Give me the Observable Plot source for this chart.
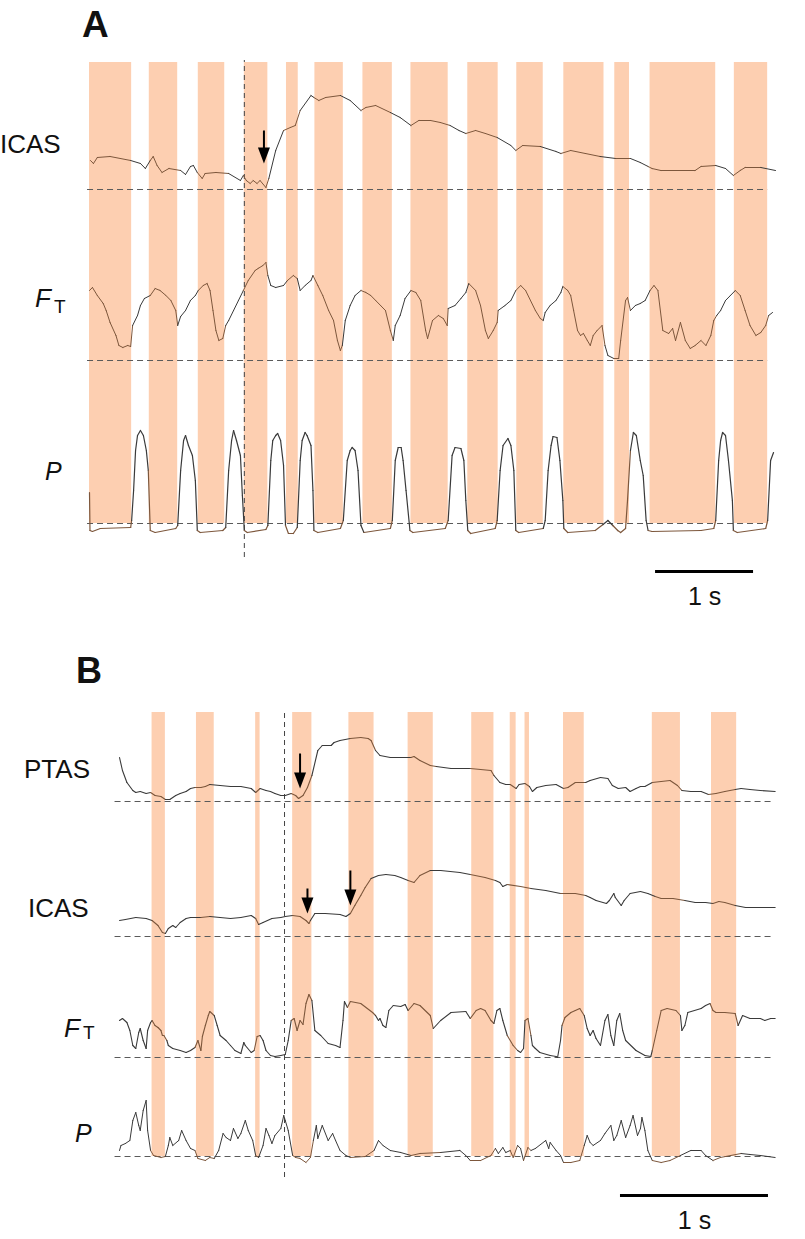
<!DOCTYPE html>
<html><head><meta charset="utf-8">
<script src="https://cdn.jsdelivr.net/npm/d3@7"></script>
<script src="https://cdn.jsdelivr.net/npm/@observablehq/plot@0.6"></script>
<style>
html,body{margin:0;padding:0;background:#fff;overflow:hidden}
#fig{position:relative;width:805px;height:1239px;font-family:"Liberation Sans",Arial,sans-serif}
#fig > svg{position:absolute;left:0}
</style></head><body><div id="fig"></div>
<script>
// ---------------- DATA (time in s, amplitude in a.u. above each trace's dashed baseline) ----------------
// Panel A
const bandsA_start = [0, 0.61, 1.11, 1.58, 2.01, 2.30, 2.79, 3.28, 3.86, 4.36, 4.84, 5.36, 5.72, 6.58];
const bandsA_end   = [0.43, 0.90, 1.38, 1.82, 2.13, 2.59, 3.09, 3.66, 4.17, 4.63, 5.25, 5.51, 6.39, 6.92];
const stimA = 1.58;
const labelsA = ["ICAS", "FT", "P"];
const icasA = [[0.01,29],[0.04,26],[0.08,32],[0.21,33],[0.42,29],[0.52,26],[0.57,21],[0.62,29],[0.65,33],[0.69,24],[0.74,17],[0.81,21],[0.93,19],[0.98,15],[1.03,23],[1.06,24],[1.10,17],[1.15,11],[1.18,16],[1.29,17],[1.42,16],[1.54,9],[1.57,14],[1.60,9],[1.64,6],[1.67,9],[1.71,6],[1.74,9],[1.80,2],[1.83,11],[1.90,39],[1.98,59],[2.05,62],[2.10,64],[2.15,79],[2.26,94],[2.29,92],[2.34,89],[2.41,92],[2.56,94],[2.66,89],[2.77,79],[2.82,82],[2.92,84],[3.07,77],[3.17,72],[3.28,64],[3.36,69],[3.48,69],[3.58,67],[3.68,64],[3.77,59],[3.84,56],[3.94,59],[4.04,56],[4.16,52],[4.30,44],[4.35,39],[4.42,44],[4.60,43],[4.76,38],[4.81,36],[4.91,39],[5.06,36],[5.21,33],[5.37,31],[5.52,31],[5.62,27],[5.70,23],[5.74,21],[5.83,19],[6.03,19],[6.18,19],[6.24,23],[6.39,24],[6.49,21],[6.57,14],[6.64,19],[6.69,22],[6.85,22],[7.00,19]];
const ftA = [[0,70],[0.03,73],[0.08,65],[0.14,57],[0.17,50],[0.21,38],[0.27,25],[0.30,15],[0.34,13],[0.39,15],[0.42,14],[0.44,35],[0.49,45],[0.52,55],[0.56,62],[0.62,65],[0.67,72],[0.72,70],[0.78,65],[0.83,60],[0.88,50],[0.90,35],[0.93,44],[0.98,50],[1.03,60],[1.08,65],[1.11,70],[1.16,75],[1.20,77],[1.23,70],[1.26,50],[1.29,30],[1.32,20],[1.36,22],[1.39,35],[1.42,40],[1.47,50],[1.52,60],[1.57,70],[1.62,80],[1.69,90],[1.72,92],[1.77,95],[1.80,98],[1.82,85],[1.85,75],[1.90,73],[1.98,75],[2.02,80],[2.08,85],[2.12,82],[2.15,70],[2.20,75],[2.26,80],[2.28,85],[2.33,75],[2.38,65],[2.44,50],[2.49,40],[2.53,20],[2.56,10],[2.58,15],[2.61,40],[2.66,55],[2.71,65],[2.77,70],[2.82,68],[2.87,65],[2.92,60],[2.97,55],[3.02,50],[3.07,30],[3.10,20],[3.12,35],[3.17,45],[3.22,62],[3.28,70],[3.33,68],[3.38,60],[3.43,30],[3.45,22],[3.50,40],[3.56,45],[3.61,42],[3.65,35],[3.66,52],[3.73,55],[3.79,62],[3.84,68],[3.87,77],[3.94,70],[3.99,55],[4.04,30],[4.07,22],[4.12,30],[4.16,38],[4.17,50],[4.24,55],[4.30,60],[4.35,70],[4.40,75],[4.45,70],[4.50,60],[4.55,50],[4.60,42],[4.63,40],[4.65,48],[4.70,55],[4.76,60],[4.81,68],[4.83,74],[4.88,70],[4.91,65],[4.94,50],[4.98,30],[5.01,25],[5.04,27],[5.08,20],[5.11,15],[5.14,25],[5.18,30],[5.23,35],[5.26,15],[5.29,5],[5.35,2],[5.40,2],[5.42,20],[5.47,60],[5.49,63],[5.52,50],[5.57,55],[5.62,57],[5.67,60],[5.72,70],[5.76,75],[5.80,70],[5.85,30],[5.91,27],[5.95,32],[5.98,20],[6.03,38],[6.08,20],[6.13,12],[6.18,15],[6.24,20],[6.29,15],[6.34,25],[6.37,40],[6.40,45],[6.44,50],[6.49,60],[6.54,65],[6.59,70],[6.64,65],[6.69,50],[6.74,35],[6.80,25],[6.85,28],[6.90,35],[6.93,45],[6.97,48]];
const pA = [[0,31],[0.005,-7],[0.03,-8],[0.11,-5],[0.42,-4],[0.43,3],[0.45,33],[0.47,73],[0.49,88],[0.52,93],[0.55,88],[0.58,73],[0.60,53],[0.62,-7],[0.67,-9],[0.88,-5],[0.90,-2],[0.93,53],[0.96,83],[0.98,88],[1.01,78],[1.05,68],[1.08,43],[1.10,-7],[1.13,-9],[1.36,-7],[1.39,-4],[1.42,53],[1.45,83],[1.47,93],[1.50,83],[1.54,68],[1.56,28],[1.58,-7],[1.61,-9],[1.80,-6],[1.82,-2],[1.85,63],[1.87,83],[1.90,88],[1.92,90],[1.95,83],[1.98,58],[2.00,-2],[2.03,-10],[2.08,-10],[2.12,-4],[2.15,63],[2.17,83],[2.20,91],[2.22,88],[2.26,78],[2.28,33],[2.29,-7],[2.33,-9],[2.56,-5],[2.59,3],[2.63,63],[2.66,73],[2.68,76],[2.71,73],[2.74,53],[2.77,-2],[2.80,-9],[3.07,-5],[3.09,3],[3.12,63],[3.15,76],[3.18,76],[3.20,63],[3.23,33],[3.27,-7],[3.30,-9],[3.63,-5],[3.66,3],[3.70,68],[3.73,76],[3.79,75],[3.82,63],[3.84,23],[3.86,-7],[3.89,-10],[4.14,-5],[4.16,3],[4.19,53],[4.22,78],[4.27,85],[4.30,78],[4.33,53],[4.35,-7],[4.38,-9],[4.63,-5],[4.65,3],[4.68,53],[4.71,78],[4.73,87],[4.77,86],[4.80,63],[4.83,23],[4.84,-5],[4.88,-9],[5.16,-7],[5.24,-1],[5.29,3],[5.34,-2],[5.39,-7],[5.42,-9],[5.47,-5],[5.49,23],[5.52,73],[5.55,91],[5.58,88],[5.62,63],[5.65,48],[5.68,3],[5.70,-7],[5.74,-8],[6.24,-7],[6.37,-5],[6.39,3],[6.42,63],[6.44,83],[6.46,91],[6.49,88],[6.52,63],[6.56,23],[6.57,-7],[6.61,-9],[6.90,-5],[6.92,3],[6.95,63],[6.98,71]];
const arrowsA_row = ["ICAS"];
const arrowsA_t = [1.78];
const arrowsA_tail = [59];
const arrowsA_tip = [26];

// Panel B
const bandsB_start = [0.22, 0.52, 0.92, 1.17, 1.55, 1.95, 2.38, 2.64, 2.74, 3.00, 3.60, 4.00];
const bandsB_end   = [0.31, 0.64, 0.95, 1.30, 1.72, 2.12, 2.53, 2.68, 2.77, 3.14, 3.79, 4.17];
const stimB = 1.115;
const labelsB = ["PTAS", "ICAS", "FT", "P"];
const ptasB = [[0,44],[0.02,31],[0.05,19],[0.09,11],[0.11,9],[0.14,10],[0.18,8],[0.21,9],[0.24,6],[0.28,5],[0.31,2],[0.34,2],[0.38,6],[0.41,8],[0.45,10],[0.48,13],[0.51,14],[0.55,14],[0.58,15],[0.61,17],[0.68,16],[0.75,15],[0.82,15],[0.89,13],[0.92,9],[0.95,13],[0.99,11],[1.02,10],[1.05,8],[1.09,6],[1.12,6],[1.16,8],[1.19,6],[1.21,3],[1.24,6],[1.27,14],[1.30,26],[1.34,51],[1.37,56],[1.43,56],[1.45,59],[1.49,61],[1.56,63],[1.63,64],[1.68,63],[1.70,61],[1.73,51],[1.76,46],[1.83,44],[1.90,44],[1.97,44],[1.99,45],[2.03,41],[2.10,36],[2.14,35],[2.24,33],[2.37,33],[2.51,31],[2.53,26],[2.57,19],[2.61,17],[2.64,17],[2.68,13],[2.70,17],[2.74,18],[2.77,15],[2.79,10],[2.82,14],[2.88,16],[2.95,17],[3.00,13],[3.03,14],[3.08,19],[3.15,19],[3.18,21],[3.25,24],[3.30,23],[3.33,16],[3.37,13],[3.42,14],[3.45,10],[3.49,13],[3.52,15],[3.55,15],[3.60,19],[3.66,20],[3.72,21],[3.77,16],[3.80,11],[3.86,10],[3.93,10],[3.98,7],[4.03,8],[4.09,10],[4.16,12],[4.20,13],[4.26,12],[4.33,11],[4.43,10]];
const icasB = [[0,16],[0.04,17],[0.11,19],[0.18,18],[0.22,16],[0.26,11],[0.29,4],[0.31,3],[0.33,8],[0.36,11],[0.38,9],[0.41,14],[0.45,18],[0.48,19],[0.55,19],[0.61,20],[0.68,19],[0.75,18],[0.82,19],[0.89,21],[0.92,18],[0.94,12],[0.97,14],[1.00,16],[1.03,18],[1.09,19],[1.12,20],[1.17,21],[1.22,20],[1.26,16],[1.28,13],[1.29,16],[1.32,23],[1.39,23],[1.49,22],[1.53,20],[1.56,23],[1.59,31],[1.63,41],[1.66,49],[1.70,58],[1.75,61],[1.80,62],[1.86,61],[1.90,59],[1.95,56],[1.99,54],[2.03,61],[2.10,66],[2.17,66],[2.30,64],[2.37,62],[2.47,59],[2.54,56],[2.57,54],[2.59,50],[2.62,52],[2.71,50],[2.78,48],[2.88,46],[2.98,43],[3.08,43],[3.15,41],[3.18,39],[3.22,36],[3.29,33],[3.31,36],[3.34,43],[3.35,39],[3.39,31],[3.41,36],[3.45,43],[3.52,45],[3.57,43],[3.62,40],[3.66,38],[3.74,38],[3.82,36],[3.89,34],[3.96,34],[4.01,33],[4.05,35],[4.09,34],[4.16,31],[4.23,29],[4.30,29],[4.43,29]];
const ftB = [[0,37],[0.02,39],[0.05,35],[0.07,27],[0.09,12],[0.11,9],[0.13,25],[0.14,29],[0.16,17],[0.18,9],[0.19,27],[0.21,35],[0.22,37],[0.24,32],[0.26,30],[0.28,27],[0.29,22],[0.30,22],[0.32,17],[0.33,12],[0.36,9],[0.41,7],[0.45,5],[0.48,7],[0.51,10],[0.53,17],[0.55,7],[0.56,21],[0.58,32],[0.60,42],[0.61,46],[0.64,42],[0.66,32],[0.68,22],[0.72,17],[0.75,12],[0.78,7],[0.82,4],[0.84,15],[0.85,12],[0.89,5],[0.91,7],[0.93,21],[0.95,22],[0.97,17],[0.99,7],[1.02,2],[1.05,1],[1.09,2],[1.12,3],[1.14,17],[1.16,37],[1.18,39],[1.20,27],[1.22,37],[1.24,33],[1.26,54],[1.28,63],[1.30,57],[1.32,27],[1.36,22],[1.41,14],[1.46,12],[1.49,10],[1.51,37],[1.52,56],[1.54,50],[1.56,56],[1.63,54],[1.71,45],[1.73,42],[1.75,37],[1.76,39],[1.78,32],[1.80,30],[1.82,47],[1.85,52],[1.90,51],[1.93,53],[1.95,47],[1.99,54],[2.03,52],[2.10,42],[2.12,29],[2.17,37],[2.24,45],[2.34,46],[2.37,39],[2.41,47],[2.44,49],[2.47,47],[2.51,37],[2.53,34],[2.55,47],[2.57,49],[2.59,37],[2.62,22],[2.66,12],[2.69,7],[2.71,5],[2.73,9],[2.74,37],[2.76,39],[2.78,22],[2.79,12],[2.81,9],[2.84,5],[2.91,2],[2.95,1],[2.96,0],[2.98,17],[2.99,32],[3.01,40],[3.05,45],[3.08,47],[3.11,49],[3.14,42],[3.16,29],[3.18,22],[3.20,27],[3.22,19],[3.25,12],[3.28,37],[3.30,43],[3.32,22],[3.34,12],[3.36,37],[3.38,44],[3.40,27],[3.42,17],[3.49,7],[3.55,2],[3.59,1],[3.60,7],[3.63,27],[3.66,47],[3.70,49],[3.76,47],[3.79,42],[3.80,27],[3.82,32],[3.84,45],[3.93,49],[3.96,52],[3.99,54],[4.01,47],[4.03,45],[4.09,45],[4.16,44],[4.18,32],[4.21,42],[4.26,39],[4.33,39],[4.36,37],[4.40,39],[4.43,39]];
const pB = [[0,6],[0.01,11],[0.04,13],[0.07,16],[0.09,36],[0.11,44],[0.13,31],[0.14,26],[0.16,46],[0.18,56],[0.19,26],[0.21,6],[0.23,1],[0.28,-1],[0.31,0],[0.33,11],[0.34,19],[0.36,11],[0.40,16],[0.42,26],[0.45,16],[0.48,8],[0.51,6],[0.53,-2],[0.58,-4],[0.61,-1],[0.64,-2],[0.67,6],[0.70,23],[0.72,19],[0.75,16],[0.77,28],[0.80,18],[0.82,23],[0.85,36],[0.87,26],[0.90,16],[0.92,1],[0.94,-1],[0.97,11],[0.99,28],[1.01,21],[1.03,13],[1.05,21],[1.09,28],[1.11,41],[1.12,36],[1.14,26],[1.17,1],[1.19,-1],[1.22,-2],[1.26,-6],[1.29,-1],[1.31,16],[1.33,31],[1.34,18],[1.37,31],[1.41,16],[1.44,23],[1.46,16],[1.49,6],[1.53,1],[1.56,-1],[1.66,0],[1.72,6],[1.75,16],[1.78,11],[1.83,6],[1.90,4],[1.97,1],[2.03,3],[2.17,4],[2.30,6],[2.34,1],[2.37,-4],[2.44,-4],[2.51,1],[2.54,8],[2.56,3],[2.59,9],[2.61,4],[2.64,6],[2.66,-1],[2.69,11],[2.71,8],[2.73,-4],[2.76,9],[2.78,6],[2.81,8],[2.88,16],[2.90,8],[2.91,14],[2.95,6],[2.98,1],[3.00,-6],[3.05,-6],[3.11,-4],[3.14,11],[3.16,21],[3.18,14],[3.20,11],[3.25,16],[3.28,23],[3.32,31],[3.34,16],[3.36,21],[3.39,36],[3.42,19],[3.45,31],[3.47,41],[3.50,21],[3.52,28],[3.53,39],[3.55,26],[3.57,6],[3.60,-4],[3.66,-6],[3.72,-4],[3.79,1],[3.86,6],[3.93,6],[3.96,1],[4.01,-4],[4.06,-1],[4.13,1],[4.20,3],[4.26,2],[4.33,1],[4.43,-1]];
const arrowsB_row = ["PTAS", "ICAS", "ICAS"];
const arrowsB_t = [1.22, 1.27, 1.56];
const arrowsB_tail = [48, 48, 66];
const arrowsB_tip = [13, 23, 31];

const scaleBarSeconds = 1;
const scaleBarLabel = "1 s";

// ---------------- LAYOUT ----------------
const FONT = "Liberation Sans, Arial, Helvetica, sans-serif";
const BAND = "#fdcfb1";
const TRACE = "#3a3a3a";       // trace outside shaded bands
const TRACE_IN = "#7d573c";    // trace seen through the shaded bands

const headSymbol = { // filled arrowhead, tip at the dot's anchor
  draw(ctx) { ctx.moveTo(-6, -16); ctx.lineTo(6, -16); ctx.lineTo(0, 0); ctx.closePath(); }
};

function panel(cfg) {
  const L = cfg.levels;
  const bands = cfg.bandsStart.map((s, i) => ({s, e: cfg.bandsEnd[i]}));
  const inBand = t => bands.some(b => t >= b.s && t <= b.e);
  const arrows = cfg.arrowT.map((t, i) => ({t, tail: L[cfg.arrowRow[i]] + cfg.arrowTail[i], tip: L[cfg.arrowRow[i]] + cfg.arrowTip[i]}));
  // consecutive samples joined into segments, coloured by whether they sit inside a band
  const segs = [];
  for (const [data, row, w] of cfg.traces) {
    for (let i = 0; i < data.length - 1; i++) {
      const a = data[i], b = data[i + 1];
      segs.push({t1: a[0], y1: L[row] + a[1], t2: b[0], y2: L[row] + b[1], w, inside: inBand((a[0] + b[0]) / 2)});
    }
  }
  const svg = Plot.plot({
    width: 805, height: cfg.height,
    marginLeft: cfg.marginLeft, marginRight: cfg.marginRight, marginTop: 0, marginBottom: 0,
    x: {domain: [0, cfg.xMax], axis: null},
    y: {domain: [0, cfg.height], axis: null},
    style: {fontFamily: FONT, background: "transparent", overflow: "visible"},
    marks: [
      Plot.rect(bands, {x1: "s", x2: "e", y1: cfg.bandBottom, y2: cfg.bandTop, fill: BAND}),
      Plot.ruleY(cfg.labels.map(r => L[r]), {y: d => d, x1: cfg.ruleX1, x2: cfg.ruleX2, stroke: "#5a5a5a", strokeWidth: 1, strokeDasharray: "6,4"}),
      Plot.ruleX([cfg.stim], {x: d => d, y1: cfg.stimBottom, y2: cfg.stimTop, stroke: "#444", strokeWidth: 1, strokeDasharray: "5,4"}),
      Plot.link(segs, {x1: "t1", y1: "y1", x2: "t2", y2: "y2", stroke: d => d.inside ? TRACE_IN : TRACE, strokeWidth: d => d.w, strokeLinecap: "round"}),
      Plot.link(arrows, {x1: "t", x2: "t", y1: "tail", y2: d => d.tip + 14, stroke: "#000", strokeWidth: 2}),
      Plot.dot(arrows, {x: "t", y: "tip", symbol: headSymbol, fill: "#000", stroke: "none", r: 6}),
      Plot.ruleY([cfg.barLevel], {y: d => d, x1: cfg.barStart, x2: cfg.barStart + scaleBarSeconds, stroke: "#000", strokeWidth: 3}),
      Plot.text([scaleBarLabel], {x: cfg.barStart + scaleBarSeconds / 2, y: cfg.barTextLevel, text: d => d, fontSize: 25, fill: "#111", textAnchor: "middle", lineAnchor: "middle"})
    ]
  });
  svg.style.top = cfg.top + "px";
  return svg;
}

const fig = document.getElementById("fig");

fig.appendChild(panel({
  top: 0, height: 640, marginLeft: 89, marginRight: 30, xMax: 7,
  labels: labelsA, levels: {ICAS: 451, FT: 280, P: 117},
  traces: [[icasA, "ICAS", 1], [ftA, "FT", 1], [pA, "P", 1.2]],
  bandsStart: bandsA_start, bandsEnd: bandsA_end, bandBottom: 117, bandTop: 578,
  ruleX1: -0.02, ruleX2: 6.92,
  stim: stimA, stimBottom: 83, stimTop: 580,
  arrowRow: arrowsA_row, arrowT: arrowsA_t, arrowTail: arrowsA_tail, arrowTip: arrowsA_tip,
  barLevel: 69, barStart: 5.776, barTextLevel: 44
}));

fig.appendChild(panel({
  top: 640, height: 599, marginLeft: 119, marginRight: 20, xMax: 4.5,
  labels: labelsB, levels: {PTAS: 438, ICAS: 303, FT: 182, P: 83},
  traces: [[ptasB, "PTAS", 1.1], [icasB, "ICAS", 1.1], [ftB, "FT", 1.1], [pB, "P", 1]],
  bandsStart: bandsB_start, bandsEnd: bandsB_end, bandBottom: 83, bandTop: 527,
  ruleX1: -0.03, ruleX2: 4.42,
  stim: stimB, stimBottom: 62, stimTop: 527,
  arrowRow: arrowsB_row, arrowT: arrowsB_t, arrowTail: arrowsB_tail, arrowTip: arrowsB_tip,
  barLevel: 44, barStart: 3.385, barTextLevel: 18.5
}));

// ---------------- TEXT LABELS ----------------
const ns = "http://www.w3.org/2000/svg";
const ov = document.createElementNS(ns, "svg");
ov.setAttribute("width", 805); ov.setAttribute("height", 1239);
ov.style.top = "0px"; ov.style.pointerEvents = "none";
ov.setAttribute("font-family", FONT);
function txt(parts) {
  const t = document.createElementNS(ns, "text");
  t.setAttribute("fill", "#111");
  for (const p of parts) {
    const s = document.createElementNS(ns, "tspan");
    s.setAttribute("x", p.x); s.setAttribute("y", p.y);
    s.setAttribute("font-size", p.size);
    if (p.bold) s.setAttribute("font-weight", "bold");
    if (p.italic) s.setAttribute("font-style", "italic");
    s.textContent = p.s;
    t.appendChild(s);
  }
  ov.appendChild(t);
}
txt([{s: "A", x: 82, y: 37, size: 37, bold: true}]);
txt([{s: labelsA[0], x: 0, y: 153, size: 26}]);
txt([{s: "F", x: 35, y: 307, size: 26, italic: true}, {s: "T", x: 54, y: 313, size: 19}]);
txt([{s: labelsA[2], x: 45, y: 480, size: 25, italic: true}]);
txt([{s: "B", x: 76, y: 683, size: 36, bold: true}]);
txt([{s: labelsB[0], x: 24, y: 778, size: 26}]);
txt([{s: labelsB[1], x: 28, y: 917, size: 26}]);
txt([{s: "F", x: 64, y: 1037, size: 26, italic: true}, {s: "T", x: 83, y: 1039, size: 19}]);
txt([{s: labelsB[3], x: 75, y: 1142, size: 25, italic: true}]);
fig.appendChild(ov);
</script>
</body></html>
